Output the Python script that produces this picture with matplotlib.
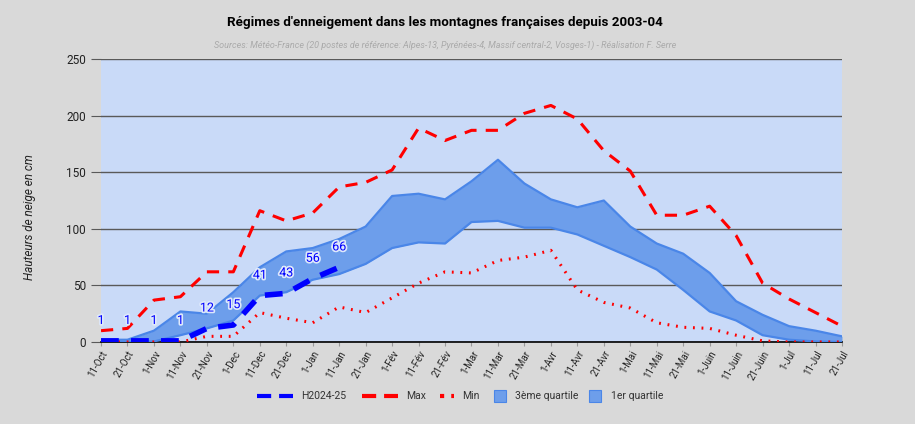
import matplotlib
matplotlib.use("Agg")
import matplotlib.pyplot as plt
import matplotlib.patheffects as pe
from matplotlib.lines import Line2D
from matplotlib.patches import Rectangle
import numpy as np

plt.rcParams["font.family"] = ["Roboto", "DejaVu Sans"]

dates = ["11-Oct", "21-Oct", "1-Nov", "11-Nov", "21-Nov", "1-Dec", "11-Dec", "21-Dec",
         "1-Jan", "11-Jan", "21-Jan", "1-Fév", "11-Fév", "21-Fév", "1-Mar", "11-Mar",
         "21-Mar", "1-Avr", "11-Avr", "21-Avr", "1-Mai", "11-Mai", "21-Mai", "1-Juin",
         "11-Juin", "21-Juin", "1-Jul", "11-Jul", "21-Jul"]

h2024 = [1, 1, 1, 1, 12, 15, 41, 43, 56, 66]
vmax = [10, 12, 37, 40, 62, 62, 116, 107, 114, 137, 141, 152, 189, 178, 187, 187,
        202, 209, 197, 169, 151, 112, 112, 120, 94, 52, 38, 26, 14]
vmin = [0, 0, 0, 0, 5, 5, 26, 21, 17, 31, 26, 39, 52, 62, 61, 72,
        75, 81, 46, 35, 30, 17, 13, 12, 6, 1, 0, 0, 0]
q3 = [2, 2, 10, 27, 25, 44, 66, 80, 83, 91, 102, 129, 131, 126, 142, 161,
      140, 126, 119, 125, 102, 87, 78, 61, 36, 24, 14, 10, 5]
q1 = [0, 0, 0.5, 6, 12, 19, 41, 44, 55, 60, 69, 83, 88, 87, 106, 107,
      101, 101, 95, 85, 75, 64, 46, 27, 19, 6, 2, 0.5, 0]

W, H = 915, 424
x = np.arange(len(dates))
fig = plt.figure(figsize=(W / 100, H / 100), dpi=100, facecolor="#d9d9d9")
ax = fig.add_axes([0.1104, 0.1934, 0.8098, 0.6674])
ax.set_facecolor("#c9daf8")

band = "#6d9eeb"
edge = "#4a86e8"
ax.fill_between(x, q1, q3, color=band, lw=0, zorder=2)
ax.plot(x, q3, color=edge, lw=1.6, zorder=3)
ax.plot(x, q1, color=edge, lw=1.6, zorder=3)
ax.plot(x, vmax, color="#ff0000", lw=2.2, ls=(0, (4, 3)), zorder=4)
ax.plot(x, vmin, color="#ff0000", lw=2.2, ls=(0, (0.6, 2.2)), zorder=4)
xh = x[:len(h2024)]
ax.plot(xh, h2024, color="#0000ff", lw=4, ls=(0, (3.2, 2.2)), zorder=5)
for xi, v in zip(xh, h2024):
    ax.annotate(str(v), (xi, v), xytext=(0, 10), textcoords="offset points",
                ha="center", va="bottom", fontsize=9, color="#0000ff", zorder=6,
                path_effects=[pe.withStroke(linewidth=2.5, foreground="#dde8fb")])

ax.set_xlim(0, len(dates) - 1)
ax.set_ylim(0, 250)
ax.set_yticks(range(0, 251, 50))
ax.grid(axis="y", color="#595959", lw=1)
ax.set_axisbelow(True)
for s in ["top", "right", "left"]:
    ax.spines[s].set_visible(False)
ax.spines["bottom"].set_color("black")
ax.spines["bottom"].set_linewidth(1.2)
ax.tick_params(axis="y", length=7, color="#595959", labelsize=8.5, labelcolor="#222222", pad=4)
ax.tick_params(axis="x", length=3, color="#999999", labelsize=7, labelcolor="#222222", pad=2)
ax.set_xticks(x)
ax.set_xticklabels(dates, rotation=60, ha="right", rotation_mode="anchor")

fig.text(0.032, 0.488, "Hauteurs de neige en cm", rotation=90, ha="center", va="center",
         fontsize=8.5, style="italic", color="#222222")
fig.text(0.486, 0.948, "Régimes d'enneigement dans les montagnes françaises depuis 2003-04",
         ha="center", va="center", fontsize=9.6, fontweight="bold", color="black")
fig.text(0.487, 0.894, "Sources: Météo-France (20 postes de référence: Alpes-13, Pyrénées-4, "
         "Massif central-2, Vosges-1) - Réalisation F. Serre",
         ha="center", va="center", fontsize=6.5, style="italic", color="#aaaaaa")

# legend drawn by hand (Sheets-style: short line handles, square swatches)
ly = 1 - 396 / H
lw_leg = 3
lines_leg = [("H2024-25", "#0000ff", (0, (3.4, 1.9)), 257, 293, 301),
             ("Max", "#ff0000", (0, (3.4, 1.9)), 362, 398, 406),
             ("Min", "#ff0000", (0, (1, 1.7)), 440, 454, 462)]
for lab, col, ls, x0, x1, xt in lines_leg:
    fig.add_artist(Line2D([x0 / W, x1 / W], [ly, ly], color=col, lw=lw_leg, ls=ls,
                          solid_capstyle="butt", dash_capstyle="butt",
                          transform=fig.transFigure))
    fig.text(xt / W, ly, lab, ha="left", va="center", fontsize=7.5, color="#333333")
for lab, x0, xt in [("3ème quartile", 494, 515), ("1er quartile", 589, 611)]:
    fig.add_artist(Rectangle((x0 / W, ly - 6 / H), 12 / W, 12 / H, facecolor=band,
                             edgecolor=edge, lw=0.8, transform=fig.transFigure))
    fig.text(xt / W, ly, lab, ha="left", va="center", fontsize=7.5, color="#333333")

fig.savefig("out.png", dpi=100, facecolor=fig.get_facecolor())
